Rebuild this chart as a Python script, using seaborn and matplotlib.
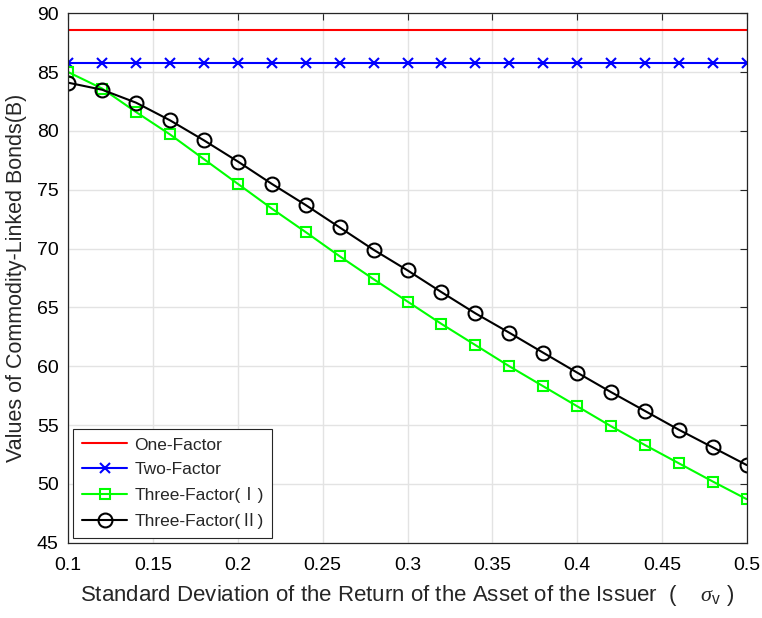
import matplotlib
matplotlib.use("Agg")
import matplotlib.pyplot as plt
import seaborn as sns
import numpy as np
import pandas as pd

sigma_v = [0.10, 0.12, 0.14, 0.16, 0.18, 0.20, 0.22, 0.24, 0.26, 0.28, 0.30,
           0.32, 0.34, 0.36, 0.38, 0.40, 0.42, 0.44, 0.46, 0.48, 0.50]
one_factor = [88.6] * 21
two_factor = [85.8] * 21
three_factor_1 = [85.0, 83.6, 81.6, 79.7, 77.6, 75.5, 73.4, 71.4, 69.35, 67.4, 65.5,
                  63.6, 61.8, 60.0, 58.3, 56.6, 54.9, 53.3, 51.75, 50.2, 48.7]
three_factor_2 = [84.1, 83.5, 82.4, 80.9, 79.2, 77.4, 75.5, 73.7, 71.8, 69.9, 68.15,
                  66.3, 64.5, 62.85, 61.15, 59.46, 57.8, 56.2, 54.6, 53.1, 51.6]
labels = ["One-Factor", "Two-Factor", "Three-Factor(Ⅰ)", "Three-Factor(Ⅱ)"]
x_ticks = [0.1, 0.15, 0.2, 0.25, 0.3, 0.35, 0.4, 0.45, 0.5]
y_ticks = [45, 50, 55, 60, 65, 70, 75, 80, 85, 90]

sns.set_theme(style="whitegrid")
plt.rcParams['font.family'] = ['Liberation Sans', 'Noto Sans CJK SC', 'DejaVu Sans']
plt.rcParams['mathtext.fontset'] = 'custom'
plt.rcParams['mathtext.rm'] = 'Liberation Sans'
plt.rcParams['mathtext.it'] = 'Liberation Serif:italic'

fig = plt.figure(figsize=(7.62, 6.18), dpi=100)
ax = fig.add_axes([0.0896, 0.1218, 0.8904, 0.8567])

series = [one_factor, two_factor, three_factor_1, three_factor_2]
colors = ["#ff0000", "#0000ff", "#00ff00", "#000000"]
markers = [None, "x", "s", "o"]
msizes = [0, 7, 7, 10]
for vals, lab, c, m, ms in zip(series, labels, colors, markers, msizes):
    df = pd.DataFrame({"x": sigma_v, "y": vals})
    kw = dict(marker=m, markersize=ms, markerfacecolor="none",
              markeredgecolor=c, markeredgewidth=1.5) if m else {}
    sns.lineplot(data=df, x="x", y="y", ax=ax, color=c, linewidth=1.5,
                 label=lab, **kw)

ax.set_xlim(0.1, 0.5)
ax.set_ylim(45, 90)
ax.set_xticks(x_ticks)
ax.set_xticklabels([f"{t:g}" for t in x_ticks])
ax.set_yticks(y_ticks)
ax.tick_params(axis="both", which="both", direction="in", length=5, width=0.8,
               top=True, right=True, labelsize=14, colors="#262626",
               labelcolor="black")
ax.tick_params(axis="x", pad=10)
ax.tick_params(axis="y", pad=7)
ax.grid(True, color="#e3e3e3", linewidth=1.0)
for s in ax.spines.values():
    s.set_color("#262626")
    s.set_linewidth(0.9)

ax.set_xlabel(r"Standard Deviation of the Return of the Asset of the Issuer  (    $\sigma_\mathrm{v}$ )",
              fontsize=16, labelpad=7)
ax.set_ylabel("Values of Commodity-Linked Bonds(B)", fontsize=15.5, labelpad=7)

leg = ax.legend(loc="lower left", fontsize=12.5, frameon=True, fancybox=False,
                borderaxespad=0.3, handlelength=2.6, handletextpad=0.4,
                labelspacing=0.56, borderpad=0.5)
leg.get_frame().set_edgecolor("#262626")
leg.get_frame().set_linewidth(0.8)
leg.get_frame().set_alpha(1)

fig.savefig("out.png", dpi=100)
